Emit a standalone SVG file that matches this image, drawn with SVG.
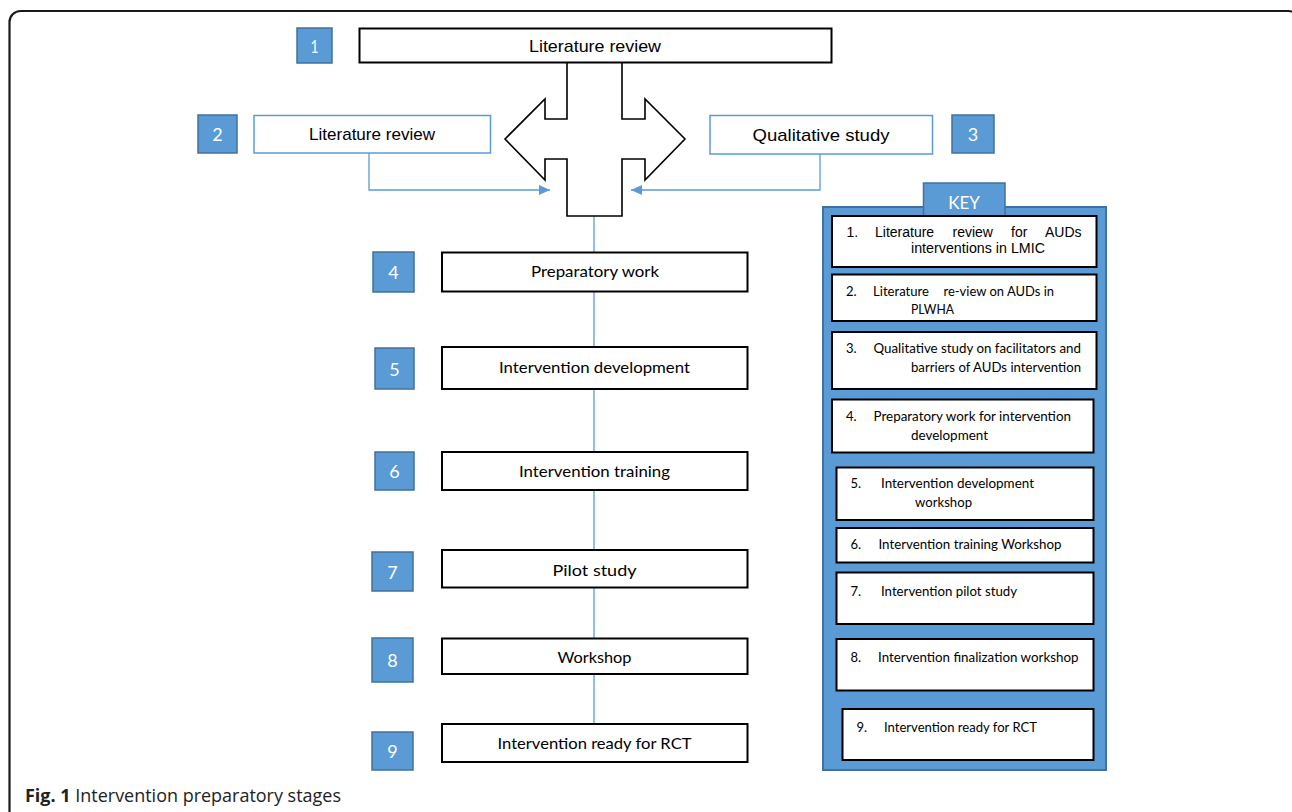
<svg xmlns="http://www.w3.org/2000/svg" width="1292" height="812" viewBox="0 0 1292 812">
<defs>
<style>
.num{fill:#5b9bd5;stroke:#41719c;stroke-width:1.5}
.numt{font-family:Lato,"Open Sans",sans-serif;font-size:18px;fill:#fff;text-anchor:middle;dominant-baseline:central}
.box{fill:#fff;stroke:#000;stroke-width:2}
.lbox{fill:#fff;stroke:#5b9bd5;stroke-width:1.5}
.bt{font-family:Lato,"Open Sans",sans-serif;font-size:16px;fill:#000;text-anchor:middle}
.nt{font-family:"Liberation Sans",Arial,sans-serif;font-size:17px;fill:#000;text-anchor:middle}
.kbox{fill:#fff;stroke:#000;stroke-width:2}
.kt{font-family:Lato,"Open Sans",sans-serif;font-size:13px;fill:#000}
.ka{font-family:"Liberation Sans",Arial,sans-serif;font-size:14px;fill:#000}
.conn{fill:none;stroke:#5b9bd5;stroke-width:1.3}
</style>
<marker id="ah" markerUnits="userSpaceOnUse" markerWidth="11" markerHeight="10" refX="11" refY="5" orient="auto">
<path d="M0,0 L11,5 L0,10 Z" fill="#5b9bd5"/>
</marker>
</defs>
<rect x="0" y="0" width="1292" height="812" fill="#fff"/>
<rect x="9.5" y="11" width="1290" height="820" rx="11" ry="11" fill="none" stroke="#1a1a1a" stroke-width="2.2"/>

<g id="connectors">
<line class="conn" x1="594" y1="216" x2="594" y2="724"/>
<polyline class="conn" points="369,153 369,190 550,190" marker-end="url(#ah)"/>
<polyline class="conn" points="820,154 820,190 631,190" marker-end="url(#ah)"/>
</g>

<g id="cross">
<path d="M567,62 L622,62 L622,119 L645,119 L645,99 L685,139 L645,180 L645,159 L622,159 L622,216 L567,216 L567,159 L545,159 L545,180 L505,139 L545,99 L545,119 L567,119 Z" fill="#fff" stroke="#000" stroke-width="1.6"/>
</g>

<g id="n1">
<rect class="num" x="297" y="28" width="35" height="35"/>
<text class="numt" x="314.5" y="45.5" font-family="Liberation Sans" textLength="8" lengthAdjust="spacingAndGlyphs">1</text>
<rect class="box" x="359.5" y="28.5" width="472" height="34"/>
<text class="nt" x="595" y="52" font-size="18" textLength="132" lengthAdjust="spacingAndGlyphs">Literature review</text>
</g>

<g id="n2">
<rect class="num" x="198" y="115" width="39" height="38"/>
<text class="numt" x="217.5" y="134">2</text>
<rect class="lbox" x="254" y="115.5" width="236.5" height="37.5"/>
<text class="nt" x="372" y="140" textLength="126" lengthAdjust="spacingAndGlyphs">Literature review</text>
</g>

<g id="n3">
<rect class="lbox" x="710" y="115.5" width="222.5" height="38.5"/>
<text class="nt" x="821" y="141" font-size="18" textLength="137" lengthAdjust="spacingAndGlyphs">Qualitative study</text>
<rect class="num" x="952" y="115" width="42" height="38"/>
<text class="numt" x="973" y="134">3</text>
</g>

<g id="n4">
<rect class="num" x="373" y="252" width="41" height="40"/>
<text class="numt" x="393.5" y="272">4</text>
<rect class="box" x="442" y="252.5" width="305.5" height="39"/>
<text class="bt" x="595" y="277" textLength="128" lengthAdjust="spacingAndGlyphs">Preparatory work</text>
</g>

<g id="n5">
<rect class="num" x="375" y="348" width="39" height="41"/>
<text class="numt" x="394.5" y="368.5">5</text>
<rect class="box" x="442" y="347" width="305.5" height="42"/>
<text class="bt" x="594.5" y="373" textLength="191" lengthAdjust="spacingAndGlyphs">Intervention development</text>
</g>

<g id="n6">
<rect class="num" x="375" y="452" width="39" height="38"/>
<text class="numt" x="394.5" y="471">6</text>
<rect class="box" x="442" y="452" width="305.5" height="38"/>
<text class="bt" x="594.5" y="477" textLength="151" lengthAdjust="spacingAndGlyphs">Intervention training</text>
</g>

<g id="n7">
<rect class="num" x="372" y="552" width="41" height="39"/>
<text class="numt" x="392.5" y="571.5">7</text>
<rect class="box" x="442" y="550" width="305.5" height="37.5"/>
<text class="bt" x="594.5" y="576" font-size="17" textLength="84" lengthAdjust="spacingAndGlyphs">Pilot study</text>
</g>

<g id="n8">
<rect class="num" x="372" y="638" width="41" height="44"/>
<text class="numt" x="392.5" y="660">8</text>
<rect class="box" x="442" y="638.5" width="305.5" height="35.5"/>
<text class="bt" x="594.5" y="663" textLength="74" lengthAdjust="spacingAndGlyphs">Workshop</text>
</g>

<g id="n9">
<rect class="num" x="372" y="732" width="41" height="38"/>
<text class="numt" x="392.5" y="751">9</text>
<rect class="box" x="442" y="724" width="305.5" height="38"/>
<text class="bt" x="594.5" y="749" textLength="194" lengthAdjust="spacingAndGlyphs">Intervention ready for RCT</text>
</g>

<g id="key">
<rect x="823" y="207" width="283" height="563" fill="#5b9bd5" stroke="#41719c" stroke-width="2"/>
<rect x="923.5" y="183" width="81.5" height="33" fill="#5b9bd5" stroke="#41719c" stroke-width="1.5"/>
<text x="964" y="209" font-family="Lato,'Open Sans',sans-serif" font-size="17" fill="#fff" text-anchor="middle">KEY</text>

<rect class="kbox" x="832" y="216" width="264.5" height="51"/>
<text class="ka" x="846.5" y="237">1.</text>
<text class="ka" x="875" y="237">Literature</text>
<text class="ka" x="952.5" y="237">review</text>
<text class="ka" x="1011" y="237">for</text>
<text class="ka" x="1045" y="237">AUDs</text>
<text class="ka" x="911" y="253" textLength="134" lengthAdjust="spacingAndGlyphs">interventions in LMIC</text>

<rect class="kbox" x="832" y="274.5" width="264.5" height="46.5"/>
<text class="kt" x="846" y="296">2.</text>
<text class="kt" x="873" y="296" textLength="56" lengthAdjust="spacingAndGlyphs">Literature</text>
<text class="kt" x="943.5" y="296" textLength="110.5" lengthAdjust="spacingAndGlyphs">re-view on AUDs in</text>
<text class="kt" x="911" y="314" textLength="43" lengthAdjust="spacingAndGlyphs">PLWHA</text>

<rect class="kbox" x="832" y="332" width="264.5" height="57"/>
<text class="kt" x="846" y="353">3.</text>
<text class="kt" x="873.5" y="353" textLength="207.5" lengthAdjust="spacingAndGlyphs">Qualitative study on facilitators and</text>
<text class="kt" x="911" y="372" textLength="170" lengthAdjust="spacingAndGlyphs">barriers of AUDs intervention</text>

<rect class="kbox" x="832" y="399.5" width="261.5" height="53"/>
<text class="kt" x="846" y="420.5">4.</text>
<text class="kt" x="873.5" y="420.5" textLength="197.5" lengthAdjust="spacingAndGlyphs">Preparatory work for intervention</text>
<text class="kt" x="911" y="439.5" textLength="77" lengthAdjust="spacingAndGlyphs">development</text>

<rect class="kbox" x="836.5" y="467.5" width="257" height="52.5"/>
<text class="kt" x="850.5" y="488">5.</text>
<text class="kt" x="881" y="488" textLength="153" lengthAdjust="spacingAndGlyphs">Intervention development</text>
<text class="kt" x="915" y="507" textLength="57" lengthAdjust="spacingAndGlyphs">workshop</text>

<rect class="kbox" x="836.5" y="528" width="257" height="34.5"/>
<text class="kt" x="850.5" y="549">6.</text>
<text class="kt" x="878.5" y="549" textLength="183" lengthAdjust="spacingAndGlyphs">Intervention training Workshop</text>

<rect class="kbox" x="836.5" y="572.5" width="257" height="51.5"/>
<text class="kt" x="850.5" y="595.5">7.</text>
<text class="kt" x="881" y="595.5" textLength="136" lengthAdjust="spacingAndGlyphs">Intervention pilot study</text>

<rect class="kbox" x="836.5" y="639" width="257" height="51.5"/>
<text class="kt" x="850.5" y="662">8.</text>
<text class="kt" x="878" y="662" textLength="200.5" lengthAdjust="spacingAndGlyphs">Intervention finalization workshop</text>

<rect class="kbox" x="842.5" y="709" width="251" height="51"/>
<text class="kt" x="856.5" y="732">9.</text>
<text class="kt" x="884" y="732" textLength="153" lengthAdjust="spacingAndGlyphs">Intervention ready for RCT</text>
</g>

<g id="caption">
<text x="25" y="802" font-family="'Open Sans','Noto Sans',sans-serif" font-size="18" fill="#222" textLength="316" lengthAdjust="spacingAndGlyphs"><tspan font-weight="bold">Fig. 1</tspan> Intervention preparatory stages</text>
</g>
</svg>
